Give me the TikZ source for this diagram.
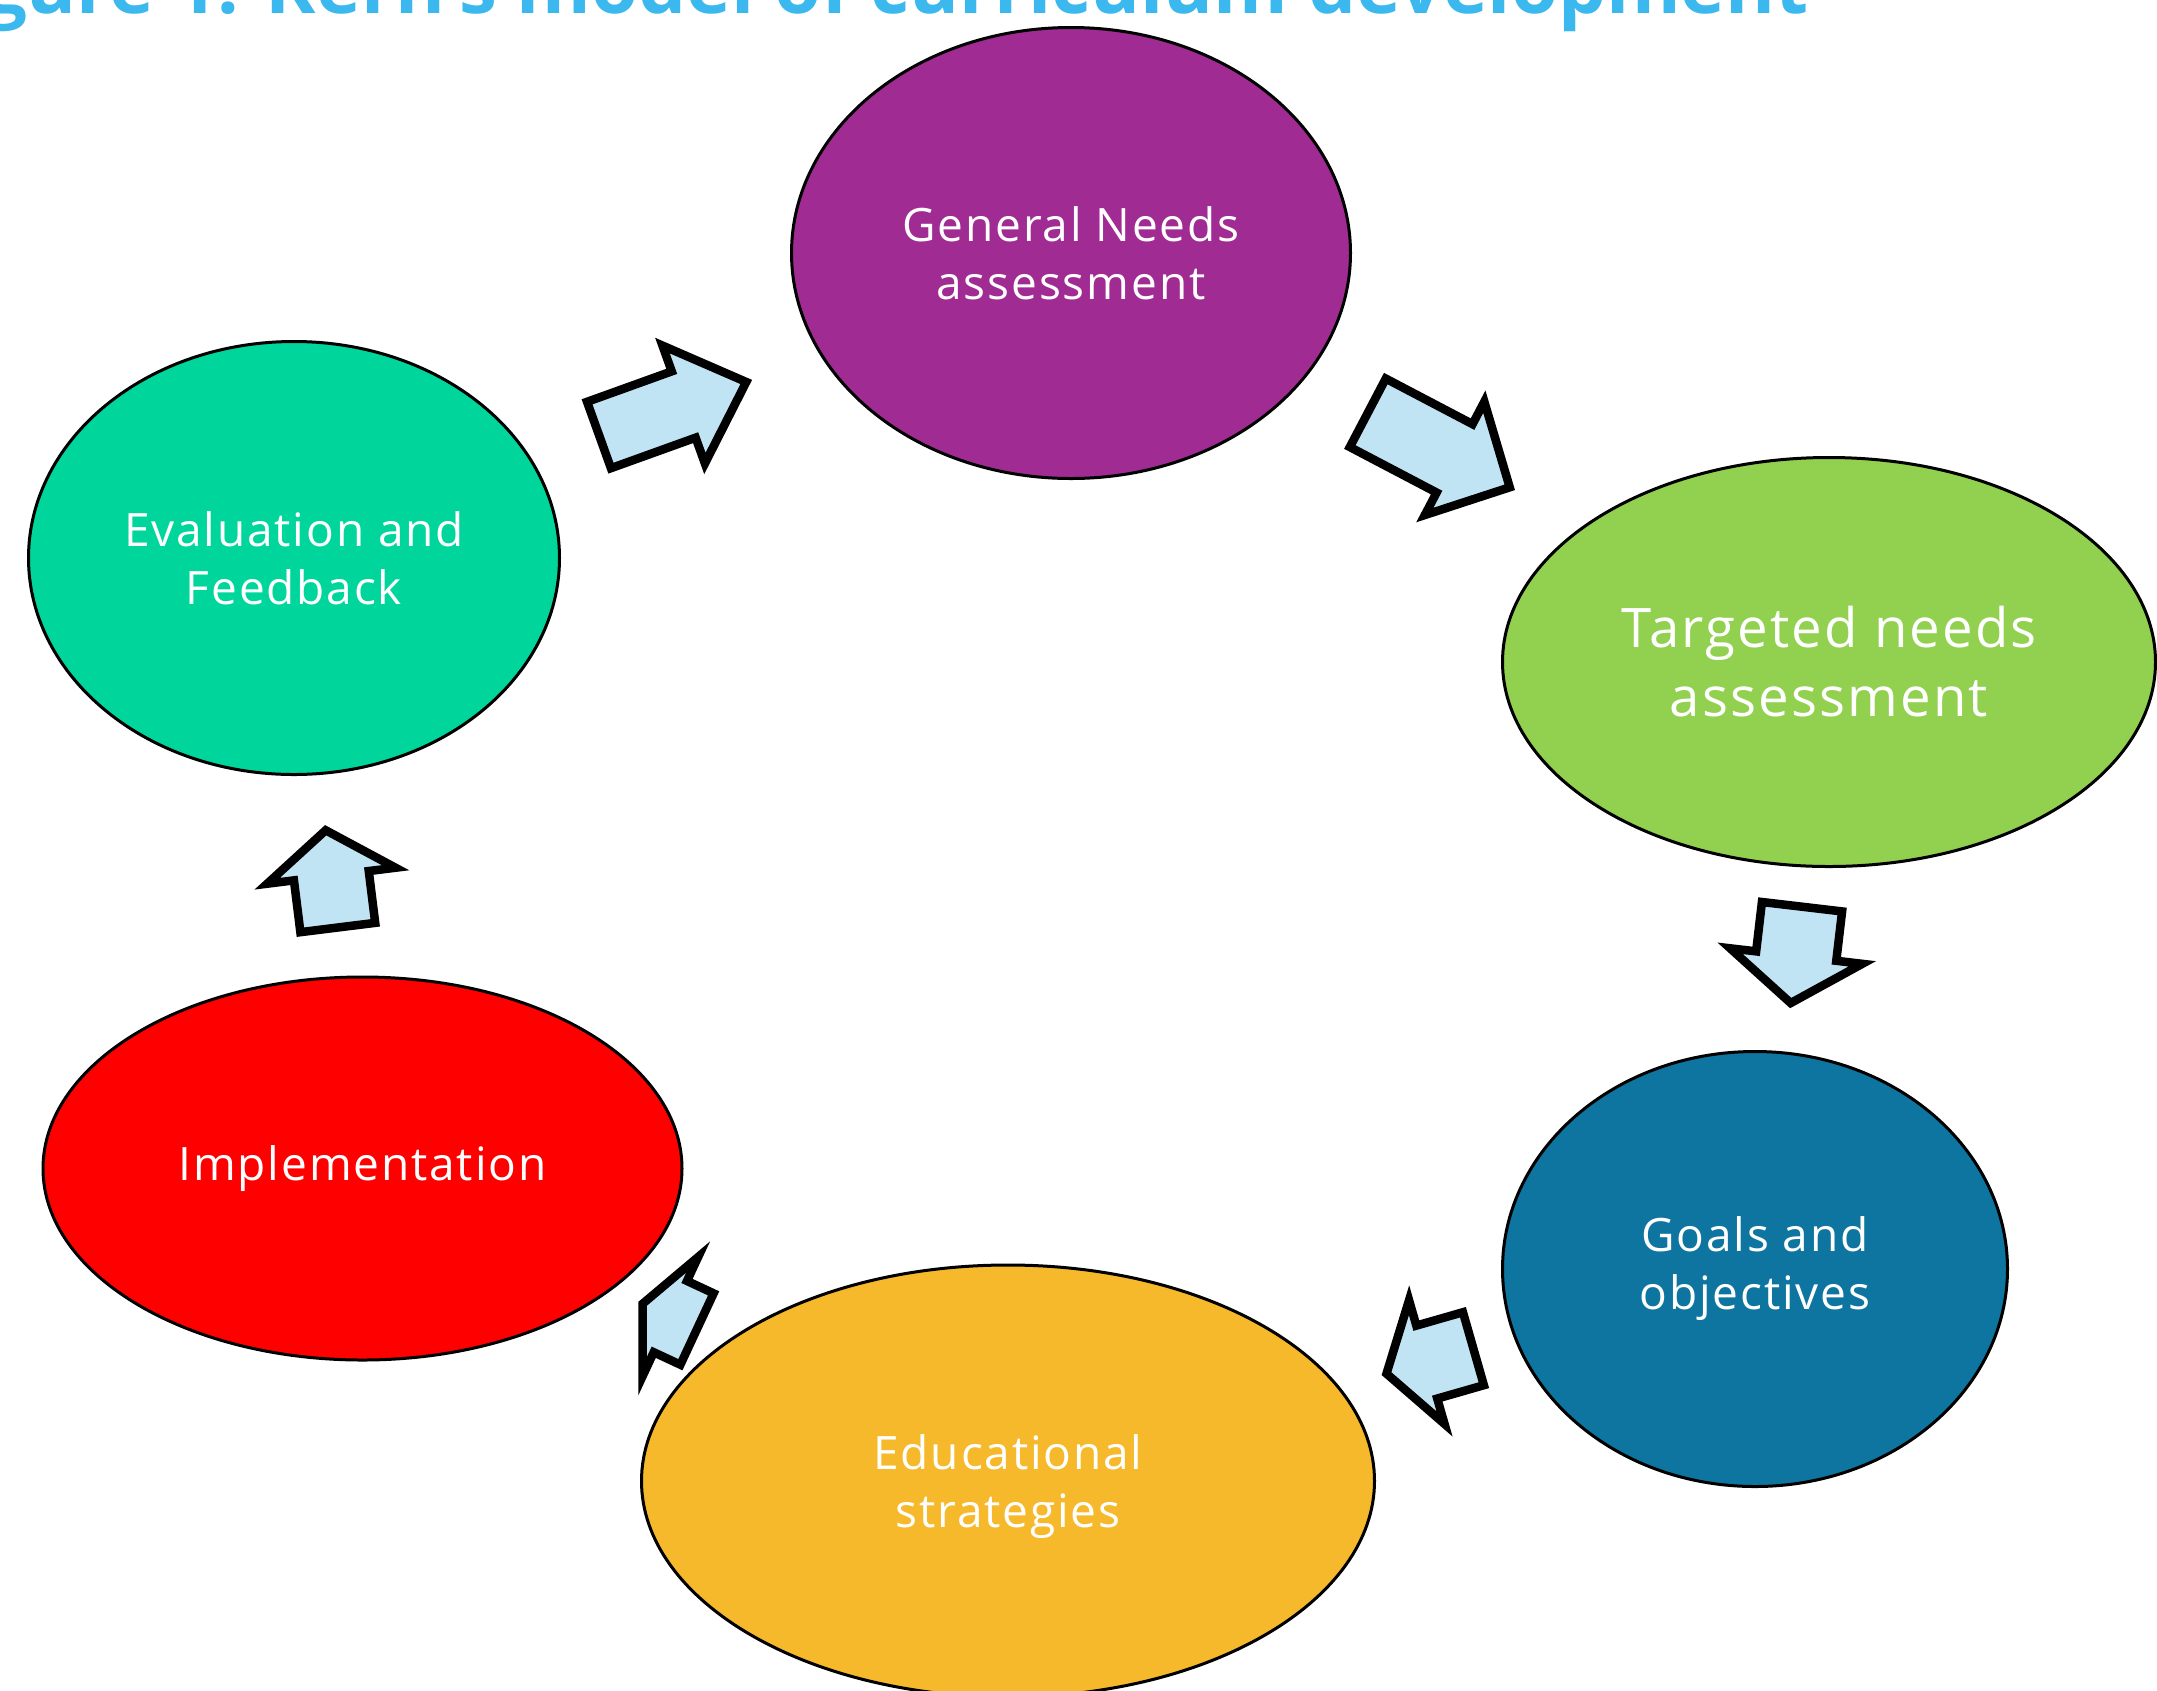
\documentclass[tikz,border=0pt]{standalone}
\usepackage{fontspec}
\setmainfont{Open Sans}
\newfontfamily\stagefont[LetterSpace=4]{Open Sans}
\usetikzlibrary{shapes.geometric}

\definecolor{needsgen}{HTML}{A02B93}
\definecolor{needstgt}{HTML}{92D050}
\definecolor{goalsc}{HTML}{0E75A0}
\definecolor{stratc}{HTML}{F7B92C}
\definecolor{implc}{HTML}{FF0000}
\definecolor{evalc}{HTML}{00D69B}
\definecolor{flowc}{HTML}{C1E4F5}
\definecolor{titleblue}{HTML}{3BB9EE}

\tikzset{
  stage/.style={ellipse, draw=black, line width=3pt, inner sep=0pt,
    text=white, align=center, font=\stagefont\fontsize{46}{58}\selectfont},
  flowarrow/.style={draw=black, fill=flowc, line width=8.5pt, line join=miter},
  % block arrow from its tail centre along +x:
  % #1 length, #2 shaft width, #3 head width, #4 head length
  pics/blockarrow/.style n args={4}{code={
    \draw[flowarrow] (0,{#2/2}) -- ({#1-#4},{#2/2}) -- ({#1-#4},{#3/2})
      -- (#1,0) -- ({#1-#4},{-#3/2}) -- ({#1-#4},{-#2/2}) -- (0,{-#2/2}) -- cycle;
  }}
}

\begin{document}
\begin{tikzpicture}[x=1pt,y=-1pt]
  \useasboundingbox (0,0) rectangle (2157,1690);
  \clip (0,0) rectangle (2157,1690);
  \fill[white] (0,0) rectangle (2157,1690);

  % heading
  \node[anchor=base east, inner sep=0pt, text=titleblue,
        font=\bfseries\fontsize{76}{84}\selectfont] (title) at (1809,13)
        {Figure 1: Kern's model of curriculum development};

  % the six stages
  \node[stage, fill=needsgen, minimum width=559pt, minimum height=451pt]
    (general) at (1071,253) {General Needs\\assessment};
  \node[stage, fill=needstgt, minimum width=653pt, minimum height=409pt,
        font=\stagefont\fontsize{54.5}{69}\selectfont]
    (targeted) at (1829,662) {Targeted needs\\assessment};
  \node[stage, fill=goalsc, minimum width=505pt, minimum height=435pt]
    (goals) at (1755,1269) {Goals and\\objectives};
  \node[stage, fill=stratc, minimum width=733pt, minimum height=432pt,
        text height=104pt]
    (strategies) at (1008,1481) {Educational\\strategies};
  \node[stage, fill=implc, minimum width=639pt, minimum height=383pt]
    (implementation) at (362.5,1168.5) {Implementation};
  \node[stage, fill=evalc, minimum width=531pt, minimum height=433pt]
    (evaluation) at (294,558) {Evaluation and\\Feedback};

  % block arrows of the cycle
  \pic[rotate=19.8]   (eg) at (599,435)      {blockarrow={156.5}{70.5}{125.3}{66.5}};
  \pic[rotate=-27.7]  (gt) at (1367.8,412.8) {blockarrow={160.3}{77.3}{128}{62.3}};
  \pic[rotate=-96.7]  (tg) at (1802,906.7)   {blockarrow={97}{80.7}{133}{47.3}};
  \pic[rotate=-164]   (gs) at (1473.4,1348.7){blockarrow={90.4}{75.9}{128.7}{41.9}};
  \pic[rotate=155]    (si) at (697,1329)     {blockarrow={59.9}{78.7}{131.5}{30.5}};
  \pic[rotate=97.1]   (ie) at (337.8,927.5)  {blockarrow={98}{75.4}{129.3}{45.8}};
\end{tikzpicture}
\end{document}
